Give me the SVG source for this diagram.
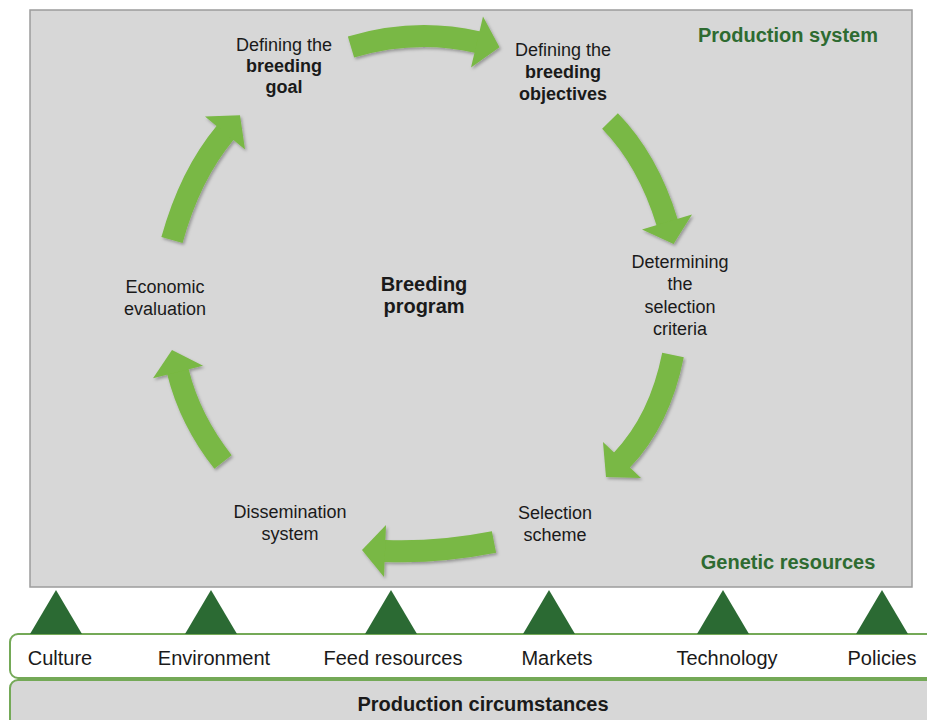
<svg xmlns="http://www.w3.org/2000/svg" width="927" height="720" viewBox="0 0 927 720">
<defs>
<filter id="sh" x="-20%" y="-20%" width="140%" height="140%">
<feDropShadow dx="1.5" dy="2" stdDeviation="1.8" flood-color="#000" flood-opacity="0.3"/>
</filter>
<style>
.lbl{font-family:"Liberation Sans",Arial,sans-serif;font-size:18px;fill:#1a1a1a;text-anchor:middle}
.b{font-weight:bold}
.head{font-family:"Liberation Sans",Arial,sans-serif;font-size:20px;font-weight:bold;fill:#2e6b31;text-anchor:middle}
.fac{font-family:"Liberation Sans",Arial,sans-serif;font-size:20px;fill:#1a1a1a;text-anchor:middle}
.arrow path{fill:none;stroke:#79b844;stroke-width:22}
.arrow polygon{fill:#79b844}
.tri{fill:#2b6a33}
.band{stroke:#74a957;stroke-width:2}
</style>
</defs>
<rect x="0" y="0" width="927" height="720" fill="#ffffff"/>
<g id="production-system">
<rect x="30" y="10" width="882" height="577" fill="#d7d7d7" stroke="#9c9c9c" stroke-width="1.5"/>
<text class="head" x="788" y="42">Production system</text>
<text class="head" x="788" y="569">Genetic resources</text>
</g>
<g id="production-circumstances">
<rect class="band" x="10" y="680" width="940" height="60" rx="8" fill="#d7d7d7"/>
<rect class="band" x="10" y="634" width="940" height="44" rx="8" fill="#ffffff"/>
<text class="fac b" x="483" y="711">Production circumstances</text>
</g>
<g id="factors">
<g id="culture"><polygon class="tri" points="56,590 30,634 82,634"/><text class="fac" x="60" y="665">Culture</text></g>
<g id="environment"><polygon class="tri" points="211,590 185,634 237,634"/><text class="fac" x="214" y="665">Environment</text></g>
<g id="feed-resources"><polygon class="tri" points="391,590 365,634 417,634"/><text class="fac" x="393" y="665">Feed resources</text></g>
<g id="markets"><polygon class="tri" points="549,590 523,634 575,634"/><text class="fac" x="557" y="665">Markets</text></g>
<g id="technology"><polygon class="tri" points="723,590 697,634 749,634"/><text class="fac" x="727" y="665">Technology</text></g>
<g id="policies"><polygon class="tri" points="882,590 856,634 908,634"/><text class="fac" x="882" y="665">Policies</text></g>
</g>
<g id="center">
<text class="lbl b" style="font-size:20px" x="424" y="291">Breeding</text>
<text class="lbl b" style="font-size:20px" x="424" y="313">program</text>
</g>
<g id="breeding-goal">
<text class="lbl" x="284" y="51">Defining the</text>
<text class="lbl b" x="284" y="72">breeding</text>
<text class="lbl b" x="284" y="93">goal</text>
</g>
<g id="breeding-objectives">
<text class="lbl" x="563" y="56">Defining the</text>
<text class="lbl b" x="563" y="78">breeding</text>
<text class="lbl b" x="563" y="100">objectives</text>
</g>
<g id="selection-criteria">
<text class="lbl" x="680" y="268">Determining</text>
<text class="lbl" x="680" y="290">the</text>
<text class="lbl" x="680" y="313">selection</text>
<text class="lbl" x="680" y="335">criteria</text>
</g>
<g id="selection-scheme">
<text class="lbl" x="555" y="519">Selection</text>
<text class="lbl" x="555" y="541">scheme</text>
</g>
<g id="dissemination-system">
<text class="lbl" x="290" y="518">Dissemination</text>
<text class="lbl" x="290" y="540">system</text>
</g>
<g id="economic-evaluation">
<text class="lbl" x="165" y="293">Economic</text>
<text class="lbl" x="165" y="315">evaluation</text>
</g>
<g id="connectors">
<g class="arrow" filter="url(#sh)"><path d="M351,47 Q415,28 477,42 L482,43.1"/><polygon points="471,67.5 483,16.5 499.5,47.2"/></g>
<g class="arrow" filter="url(#sh)"><path d="M610,121 Q648,160 667,222 L668.5,226.8"/><polygon points="692,214.4 642,229.6 673.6,244"/></g>
<g class="arrow" filter="url(#sh)"><path d="M673,355 Q660,420 622,460 L618.5,463.7"/><polygon points="641,478 603,442 606,477"/></g>
<g class="arrow" filter="url(#sh)"><path d="M494,542 Q438,553 385,551 L380,550.8"/><polygon points="386,525 384,577 362,550"/></g>
<g class="arrow" filter="url(#sh)"><path d="M223,462 Q190,420 178,372 L176.8,367.1"/><polygon points="203,365.8 153,378.2 172,350"/></g>
<g class="arrow" filter="url(#sh)"><path d="M172,240 Q190,175 225,133 L228.2,129.2"/><polygon points="245,149.6 205,116.4 240,115.3"/></g>
</g>
</svg>
